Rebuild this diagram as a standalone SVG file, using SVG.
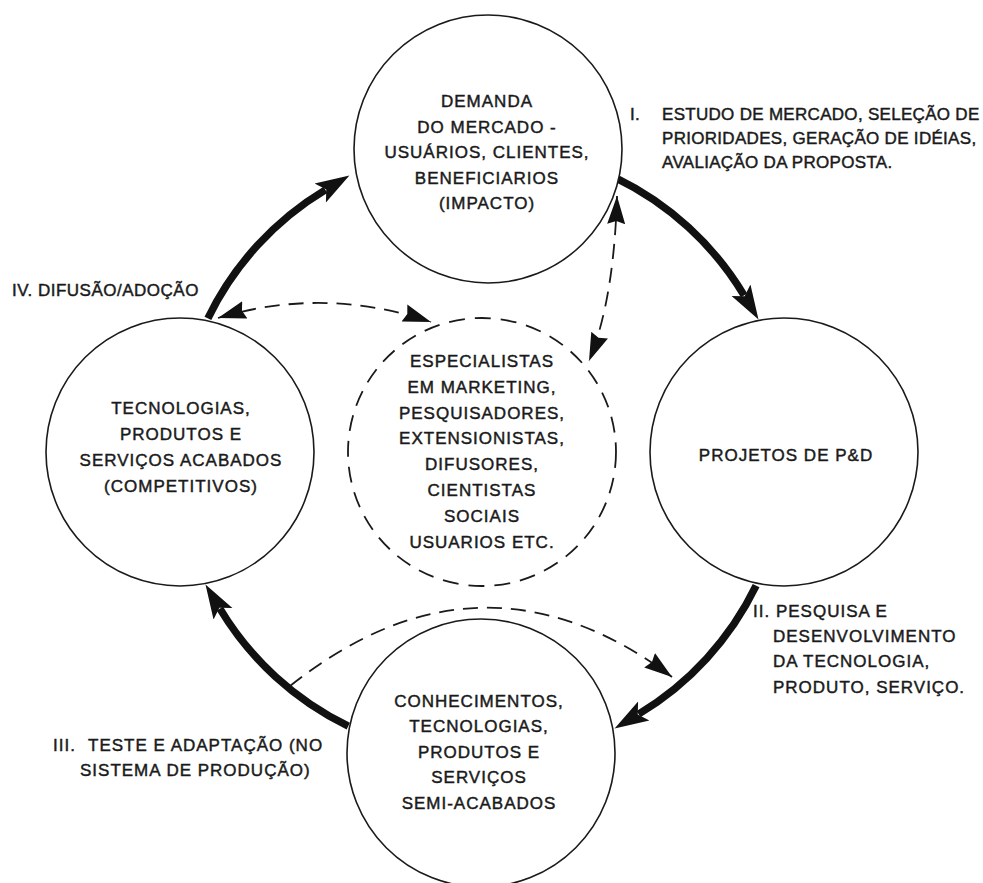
<svg xmlns="http://www.w3.org/2000/svg" width="983" height="883" viewBox="0 0 983 883">
  <style>
    .node { fill: #ffffff; stroke: #1a1a1a; stroke-width: 1.6; }
    .dnode { fill: none; stroke: #1a1a1a; stroke-width: 1.8; stroke-dasharray: 16 10; }
    .thick { fill: none; stroke: #111111; stroke-width: 7.5; }
    .dash { fill: none; stroke: #1a1a1a; stroke-width: 1.8; stroke-dasharray: 15 9; }
    text { font-family: "Liberation Sans", Arial, sans-serif; font-size: 17px; fill: #1a1a1a; stroke: #1a1a1a; stroke-width: 0.45; letter-spacing: 1px; }
    .c { text-anchor: middle; }
    .tight { letter-spacing: 0.3px; }
  </style>
  <defs>
    <marker id="bigHead" markerUnits="userSpaceOnUse" markerWidth="40" markerHeight="26" viewBox="0 -13 40 26" refX="6" refY="0" orient="auto">
      <path d="M0,-11 L34,0 L0,11 L7,0 Z" fill="#111111"/>
    </marker>
    <marker id="dashHead" markerUnits="userSpaceOnUse" markerWidth="32" markerHeight="22" viewBox="0 -11 32 22" refX="28" refY="0" orient="auto-start-reverse">
      <path d="M0,-9 L28,0 L0,9 L3,0 Z" fill="#111111"/>
    </marker>
  </defs>
  <rect width="983" height="883" fill="#ffffff"/>

  <g id="connectors">
    <path class="thick" d="M207.9,318.3 A305,305 0 0 1 325.4,189.9" marker-end="url(#bigHead)"/>
    <path class="thick" d="M615.7,177.9 A305,305 0 0 1 744.1,295.4" marker-end="url(#bigHead)"/>
    <path class="thick" d="M756.1,585.7 A305,305 0 0 1 638.6,714.1" marker-end="url(#bigHead)"/>
    <path class="thick" d="M348.3,726.1 A305,305 0 0 1 219.9,608.6" marker-end="url(#bigHead)"/>
    <path class="dash" d="M617,196 Q614,300 589,361" marker-start="url(#dashHead)" marker-end="url(#dashHead)"/>
    <path class="dash" d="M218,318 Q324,286 431,322" marker-start="url(#dashHead)" marker-end="url(#dashHead)"/>
    <path class="dash" d="M290,686 Q481,534 672,677" marker-end="url(#dashHead)"/>
  </g>

  <g id="node-demanda">
    <circle class="node" cx="488" cy="149" r="134"/>
    <text class="c" x="487" y="107">DEMANDA</text>
    <text class="c" x="487" y="133">DO MERCADO -</text>
    <text class="c" x="487" y="158">USUÁRIOS, CLIENTES,</text>
    <text class="c" x="487" y="184">BENEFICIARIOS</text>
    <text class="c" x="487" y="209">(IMPACTO)</text>
  </g>

  <g id="node-tecnologias">
    <circle class="node" cx="180" cy="452" r="134"/>
    <text class="c" x="181" y="414">TECNOLOGIAS,</text>
    <text class="c" x="181" y="440">PRODUTOS E</text>
    <text class="c" x="181" y="466">SERVIÇOS ACABADOS</text>
    <text class="c" x="181" y="492">(COMPETITIVOS)</text>
  </g>

  <g id="node-especialistas">
    <circle class="dnode" cx="482" cy="452" r="134"/>
    <text class="c" x="482" y="367">ESPECIALISTAS</text>
    <text class="c" x="482" y="393">EM MARKETING,</text>
    <text class="c" x="482" y="419">PESQUISADORES,</text>
    <text class="c" x="482" y="444">EXTENSIONISTAS,</text>
    <text class="c" x="482" y="470">DIFUSORES,</text>
    <text class="c" x="482" y="496">CIENTISTAS</text>
    <text class="c" x="482" y="522">SOCIAIS</text>
    <text class="c" x="482" y="548">USUARIOS ETC.</text>
  </g>

  <g id="node-projetos">
    <circle class="node" cx="784" cy="452" r="134"/>
    <text class="c" x="786" y="461">PROJETOS DE P&amp;D</text>
  </g>

  <g id="node-conhecimentos">
    <circle class="node" cx="481" cy="753" r="134"/>
    <text class="c" x="479" y="707">CONHECIMENTOS,</text>
    <text class="c" x="479" y="732">TECNOLOGIAS,</text>
    <text class="c" x="479" y="758">PRODUTOS E</text>
    <text class="c" x="479" y="783">SERVIÇOS</text>
    <text class="c" x="479" y="809">SEMI-ACABADOS</text>
  </g>

  <g id="label-I">
    <text class="tight" x="630" y="120">I.</text>
    <text class="tight" x="662" y="120">ESTUDO DE MERCADO, SELEÇÃO DE</text>
    <text class="tight" x="662" y="144">PRIORIDADES, GERAÇÃO DE IDÉIAS,</text>
    <text class="tight" x="662" y="168">AVALIAÇÃO DA PROPOSTA.</text>
  </g>

  <g id="label-II">
    <text x="753" y="617">II. PESQUISA E</text>
    <text x="773" y="642">DESENVOLVIMENTO</text>
    <text x="773" y="667">DA TECNOLOGIA,</text>
    <text x="773" y="693">PRODUTO, SERVIÇO.</text>
  </g>

  <g id="label-III">
    <text x="53" y="751">III.</text>
    <text x="88" y="751">TESTE E ADAPTAÇÃO (NO</text>
    <text x="80" y="776">SISTEMA DE PRODUÇÃO)</text>
  </g>

  <g id="label-IV">
    <text x="12" y="296" style="letter-spacing:0.5px">IV. DIFUSÃO/ADOÇÃO</text>
  </g>
</svg>
